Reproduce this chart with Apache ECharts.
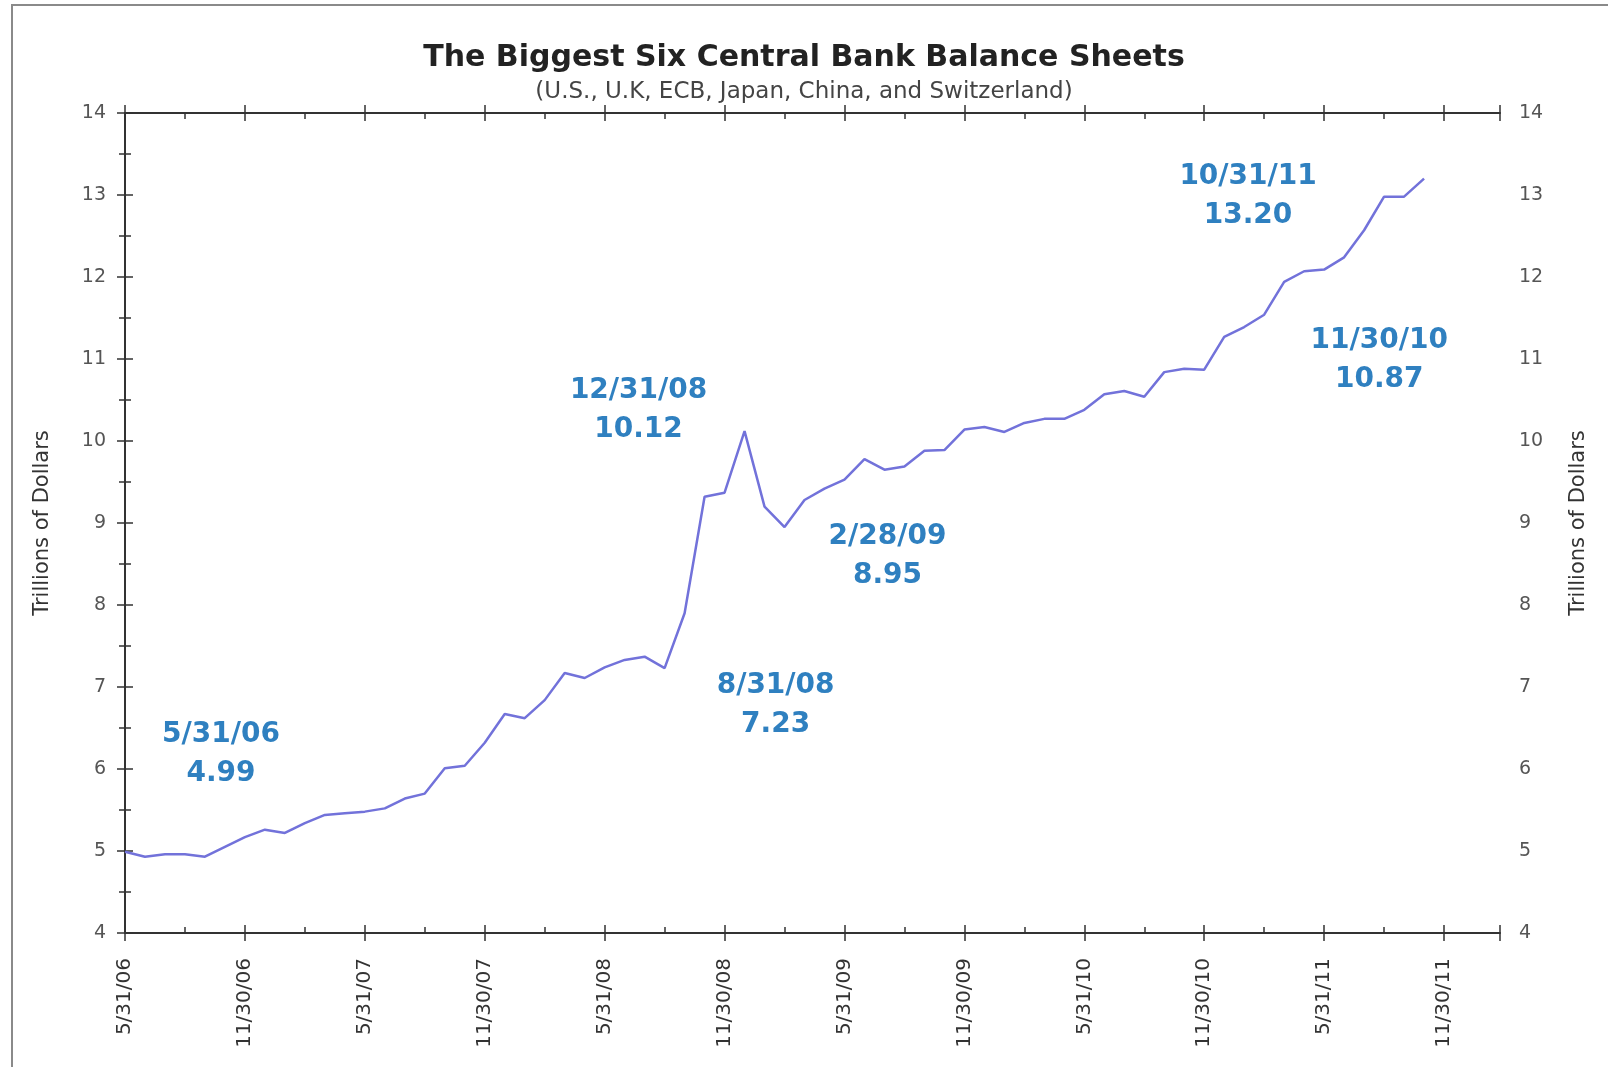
<!DOCTYPE html>
<html>
<head>
<meta charset="utf-8">
<script src="https://cdn.jsdelivr.net/npm/echarts@6/dist/echarts.min.js"></script>
<style>
  html, body { margin: 0; padding: 0; background: #ffffff; }
  #chart { width: 1608px; height: 1067px; }
</style>
</head>
<body>
<div id="chart"></div>
<script>
// Month-end dates (index 0 = 5/31/06)
const monthEnds = [
  '5/31/06','6/30/06','7/31/06','8/31/06','9/30/06','10/31/06','11/30/06','12/31/06',
  '1/31/07','2/28/07','3/31/07','4/30/07','5/31/07','6/30/07','7/31/07','8/31/07',
  '9/30/07','10/31/07','11/30/07','12/31/07','1/31/08','2/29/08','3/31/08','4/30/08',
  '5/31/08','6/30/08','7/31/08','8/31/08','9/30/08','10/31/08','11/30/08','12/31/08',
  '1/31/09','2/28/09','3/31/09','4/30/09','5/31/09','6/30/09','7/31/09','8/31/09',
  '9/30/09','10/31/09','11/30/09','12/31/09','1/31/10','2/28/10','3/31/10','4/30/10',
  '5/31/10','6/30/10','7/31/10','8/31/10','9/30/10','10/31/10','11/30/10','12/31/10',
  '1/31/11','2/28/11','3/31/11','4/30/11','5/31/11','6/30/11','7/31/11','8/31/11',
  '9/30/11','10/31/11'
];
// Combined balance sheets, trillions of dollars
const balanceSheets = [
  4.99, 4.93, 4.96, 4.96, 4.93, 5.05, 5.17, 5.26,
  5.22, 5.34, 5.44, 5.46, 5.48, 5.52, 5.64, 5.70,
  6.01, 6.04, 6.32, 6.67, 6.62, 6.84, 7.17, 7.11,
  7.24, 7.33, 7.37, 7.23, 7.90, 9.32, 9.37, 10.12,
  9.20, 8.95, 9.28, 9.42, 9.53, 9.78, 9.65, 9.69,
  9.88, 9.89, 10.14, 10.17, 10.11, 10.22, 10.27, 10.27,
  10.38, 10.57, 10.61, 10.54, 10.84, 10.88, 10.87, 11.27,
  11.39, 11.54, 11.94, 12.07, 12.09, 12.24, 12.57, 12.98,
  12.98, 13.20
];
// x-axis tick labels (every 6 months)
const xTickLabels = ['5/31/06','11/30/06','5/31/07','11/30/07','5/31/08','11/30/08',
                     '5/31/09','11/30/09','5/31/10','11/30/10','5/31/11','11/30/11'];
// callouts
const calloutDates  = ['5/31/06','12/31/08','8/31/08','2/28/09','10/31/11','11/30/10'];
const calloutValues = ['4.99','10.12','7.23','8.95','13.20','10.87'];
const calloutOffsets = [[96,-98],[-106,-21],[111,37],[103,29],[-176,18],[175,-9]];

const X_MAX = 68.8;
const axisColor = '#333333';
const font = 'DejaVu Sans';

function xAxisDef(pos, interval, inside, len, showLine, showLabel) {
  return {
    type: 'value', position: pos, min: 0, max: X_MAX, interval: interval,
    axisLine: { show: showLine, lineStyle: { color: axisColor, width: 2 } },
    axisTick: { show: true, inside: inside, length: len, lineStyle: { color: axisColor, width: 1.5 } },
    splitLine: { show: false },
    axisLabel: showLabel ? {
      show: true, rotate: 90, margin: 25, color: '#333', fontFamily: font, fontSize: 20,
      showMinLabel: true, showMaxLabel: true,
      formatter: function (v) {
        const k = Math.round(v / 6);
        if (Math.abs(v - k * 6) < 1e-6 && k < xTickLabels.length) return xTickLabels[k];
        return '';
      }
    } : { show: false }
  };
}
function yAxisDef(pos, inside, showLine, showLabel, showMinor) {
  return {
    type: 'value', position: pos, min: 4, max: 14, interval: 1,
    name: showLabel ? 'Trillions of Dollars' : '',
    nameLocation: 'middle', nameRotate: 90, nameGap: pos === 'left' ? 72 : 68,
    nameTextStyle: { fontFamily: font, fontSize: 21, color: '#333' },
    axisLine: { show: showLine, lineStyle: { color: axisColor, width: 2 } },
    axisTick: { show: true, inside: inside, length: 8, lineStyle: { color: axisColor, width: 1.5 } },
    minorTick: { show: showMinor, splitNumber: 2, length: 6, lineStyle: { color: axisColor, width: 1.5 } },
    splitLine: { show: false }, minorSplitLine: { show: false },
    axisLabel: showLabel ? { show: true, margin: 19, color: '#555', fontFamily: font, fontSize: 19 } : { show: false }
  };
}

const lineData = balanceSheets.map((v, i) => [i, v]);
const markData = calloutDates.map((d, j) => {
  const idx = monthEnds.indexOf(d);
  return {
    coord: [idx, balanceSheets[idx]],
    label: { offset: calloutOffsets[j], formatter: d + '\n' + calloutValues[j] }
  };
});

const chart = echarts.init(document.getElementById('chart'), null, { renderer: 'canvas' });
chart.setOption({
  animation: false,
  backgroundColor: '#ffffff',
  title: {
    text: 'The Biggest Six Central Bank Balance Sheets',
    subtext: '(U.S., U.K, ECB, Japan, China, and Switzerland)',
    left: 'center', top: 38, itemGap: 8,
    textStyle: { fontFamily: font, fontWeight: 'bold', fontSize: 30, color: '#222' },
    subtextStyle: { fontFamily: font, fontSize: 23, color: '#444' }
  },
  grid: { left: 125, right: 108, top: 113, bottom: 134, containLabel: false },
  xAxis: [
    xAxisDef('bottom', 6, false, 8, true, true),
    xAxisDef('bottom', 6, true, 8, false, false),
    xAxisDef('bottom', 3, true, 6, false, false),
    xAxisDef('top', 6, false, 8, true, false),
    xAxisDef('top', 6, true, 8, false, false),
    xAxisDef('top', 3, true, 6, false, false)
  ],
  yAxis: [
    yAxisDef('left', false, true, true, false),
    yAxisDef('left', true, false, false, true),
    yAxisDef('right', false, true, true, false),
    yAxisDef('right', true, false, false, true)
  ],
  graphic: [{
    type: 'rect', silent: true, z: -1,
    shape: { x: 12, y: 5, width: 1700, height: 1200 },
    style: { fill: 'none', stroke: '#8a8a8a', lineWidth: 2 }
  }],
  series: [{
    type: 'line', xAxisIndex: 0, yAxisIndex: 0,
    data: lineData, showSymbol: false, symbol: 'none',
    lineStyle: { color: '#7272da', width: 2.5 },
    markPoint: {
      symbol: 'circle', symbolSize: 1,
      itemStyle: { color: 'rgba(0,0,0,0)' },
      label: {
        show: true, position: 'inside', color: '#2f80c0',
        fontFamily: font, fontWeight: 'bold', fontSize: 28, lineHeight: 39,
        align: 'center', verticalAlign: 'middle'
      },
      data: markData
    }
  }]
});
</script>
</body>
</html>
